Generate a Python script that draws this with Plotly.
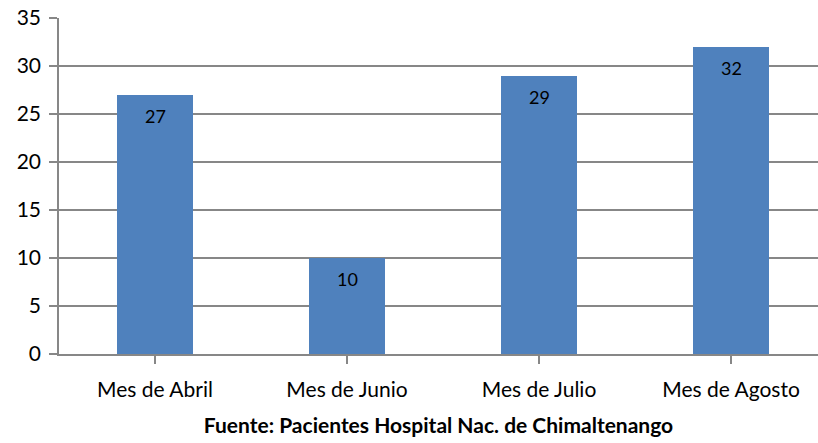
import plotly.graph_objects as go

# Patients per month
meses = ["Mes de Abril", "Mes de Junio", "Mes de Julio", "Mes de Agosto"]
pacientes = [27, 10, 29, 32]
y_ticks = [0, 5, 10, 15, 20, 25, 30, 35]
fuente = "Fuente: Pacientes Hospital Nac. de Chimaltenango"

bar_color = "#4F81BD"
grid_color = "#878787"
font_family = "Lato, 'Open Sans', sans-serif"

fig = go.Figure()
fig.add_trace(go.Bar(
    x=list(range(len(meses))),
    y=pacientes,
    width=0.4,
    marker=dict(color=bar_color, line=dict(width=0)),
    hoverinfo="skip",
))

# Value labels just below the top of each bar
for i, v in enumerate(pacientes):
    fig.add_annotation(
        x=i, y=v, text=str(v), showarrow=False,
        yanchor="middle", yshift=-21,
        font=dict(family=font_family, size=18, color="#000000"),
    )

fig.update_layout(
    width=818, height=443,
    margin=dict(l=59, r=0, t=18, b=89),
    plot_bgcolor="white", paper_bgcolor="white",
    showlegend=False,
    bargap=0,
    font=dict(family=font_family, color="#000000"),
    xaxis=dict(
        tickmode="array",
        tickvals=list(range(len(meses))),
        ticktext=meses,
        range=[-0.5, 3.453],
        showgrid=False,
        showline=True, linecolor=grid_color, linewidth=1.5,
        ticks="outside", tickson="boundaries", ticklen=8,
        tickcolor=grid_color, tickwidth=1.5,
        tickfont=dict(size=21, color="#000000"),
        ticklabelstandoff=8,
        title=dict(text="<b>" + fuente + "</b>",
                   font=dict(size=21, color="#000000"), standoff=18),
        zeroline=False,
    ),
    yaxis=dict(
        range=[0, 35],
        tickvals=y_ticks,
        showgrid=True, gridcolor=grid_color, gridwidth=1.5,
        showline=True, linecolor=grid_color, linewidth=1.5,
        ticks="outside", ticklen=8, tickcolor=grid_color, tickwidth=1.5,
        tickfont=dict(size=21, color="#000000"),
        ticklabelstandoff=4,
        zeroline=False,
    ),
)

fig.write_html("out.html")
